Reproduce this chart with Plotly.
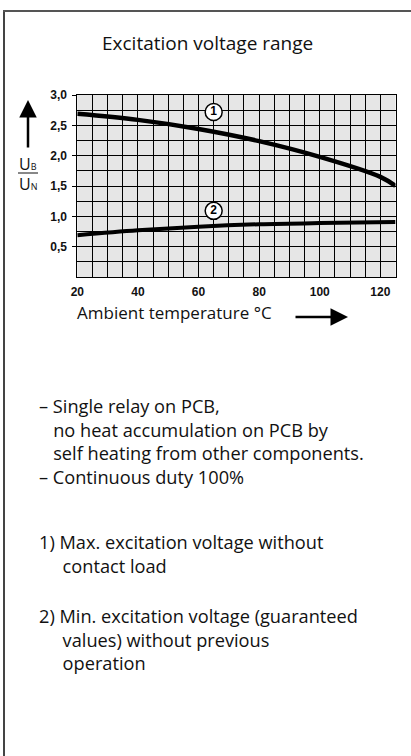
import plotly.graph_objects as go

W, H = 411, 756

# ---- data ----
temp_max = [20, 40, 60, 80, 100, 120, 125]
ub_un_max = [2.69, 2.59, 2.44, 2.24, 1.98, 1.65, 1.50]
temp_min = [20, 40, 60, 80, 100, 125]
ub_un_min = [0.69, 0.77, 0.83, 0.87, 0.89, 0.905]
label_x = [65, 65]
label_y = [2.72, 1.09]
label_text = ["1", "2"]
x_ticks = [20, 40, 60, 80, 100, 120]
y_ticks = [0.5, 1.0, 1.5, 2.0, 2.5, 3.0]
y_tick_text = ["0,5", "1,0", "1,5", "2,0", "2,5", "3,0"]

title = "Excitation voltage range"
x_title = "Ambient temperature °C"
NB3 = "\u00a0" * 3
NB5 = "\u00a0" * 5
notes = [
    (37, 441.5, "– Single relay on PCB,<br>" + NB3 + "no heat accumulation on PCB by<br>"
     + NB3 + "self heating from other components.<br>– Continuous duty 100%"),
    (37, 554, "1) Max. excitation voltage without<br>" + NB5 + "contact load"),
    (37, 639, "2) Min. excitation voltage (guaranteed<br>" + NB5 + "values) without previous<br>"
     + NB5 + "operation"),
]

def px(x):
    return x / W

def py(y):
    return 1 - y / H

TEXT_FONT = dict(family="Open Sans, Noto Sans, sans-serif", size=18.2, color="#111")
TICK_FONT = dict(family="Liberation Sans, Arial, sans-serif", size=12, color="#111", weight="bold")

fig = go.Figure()
fig.add_trace(go.Scatter(x=temp_max, y=ub_un_max, mode="lines",
                         line=dict(color="black", width=4.5, shape="spline", smoothing=1.0),
                         hoverinfo="skip", showlegend=False))
fig.add_trace(go.Scatter(x=temp_min, y=ub_un_min, mode="lines",
                         line=dict(color="black", width=4, shape="spline", smoothing=1.0),
                         hoverinfo="skip", showlegend=False))
fig.add_trace(go.Scatter(x=label_x, y=label_y, mode="markers+text",
                         text=label_text, textposition="middle center",
                         textfont=dict(family="Liberation Sans, Arial, sans-serif", size=12,
                                       color="black", weight="bold"),
                         marker=dict(size=17, color="white", line=dict(color="black", width=1.5)),
                         hoverinfo="skip", showlegend=False))

x0, x1 = 77.3, 395.5
y0, y1 = 95, 277

fig.update_layout(
    width=W, height=H,
    margin=dict(l=0, r=0, t=0, b=0, pad=0, autoexpand=False),
    paper_bgcolor="white",
    plot_bgcolor="#e6e6e6",
    xaxis=dict(domain=[px(x0), px(x1)], range=[20, 125], automargin=False,
               tickvals=x_ticks, ticks="", tickfont=TICK_FONT,
               showgrid=True, gridcolor="black", gridwidth=1,
               minor=dict(dtick=5, tick0=20, showgrid=True, gridcolor="black", gridwidth=1),
               showline=True, linecolor="black", linewidth=1, mirror=True,
               zeroline=False, fixedrange=True, ticklabelstandoff=4),
    yaxis=dict(domain=[py(y1), py(y0)], range=[0, 3], automargin=False,
               tickvals=y_ticks, ticktext=y_tick_text, ticks="outside", ticklen=4,
               tickcolor="black", tickfont=TICK_FONT,
               showgrid=True, gridcolor="black", gridwidth=1,
               minor=dict(dtick=0.25, tick0=0, showgrid=True, gridcolor="black", gridwidth=1),
               showline=True, linecolor="black", linewidth=1, mirror=True,
               zeroline=False, fixedrange=True, ticklabelstandoff=3),
)

ann = []
ann.append(dict(x=px(207), y=py(43), xref="paper", yref="paper", text=title,
                showarrow=False, xanchor="center", yanchor="middle",
                font=dict(family="Open Sans, Noto Sans, sans-serif", size=19, color="#111")))
ann.append(dict(x=px(75), y=py(313), xref="paper", yref="paper", text=x_title,
                showarrow=False, xanchor="left", yanchor="middle",
                font=dict(family="Open Sans, Noto Sans, sans-serif", size=17, color="#111")))
for (lx, ly, t) in notes:
    ann.append(dict(x=px(lx), y=py(ly), xref="paper", yref="paper", text=t,
                    showarrow=False, xanchor="left", yanchor="middle", align="left",
                    font=TEXT_FONT))
# U_B / U_N fraction
ann.append(dict(x=px(28), y=py(164), xref="paper", yref="paper",
                text="U<span style='font-size:9px'>B</span>",
                showarrow=False, xanchor="center", yanchor="middle",
                font=dict(family="Open Sans, Noto Sans, sans-serif", size=16, color="#111")))
ann.append(dict(x=px(28), y=py(184), xref="paper", yref="paper",
                text="U<span style='font-size:9px'>N</span>",
                showarrow=False, xanchor="center", yanchor="middle",
                font=dict(family="Open Sans, Noto Sans, sans-serif", size=16, color="#111")))
# arrows
ann.append(dict(x=px(28), y=py(100), xref="paper", yref="paper",
                ax=0, ay=49, axref="pixel", ayref="pixel",
                showarrow=True, arrowhead=2, arrowsize=1.4, arrowwidth=2.5,
                arrowcolor="black", text=""))
ann.append(dict(x=px(348), y=py(317), xref="paper", yref="paper",
                ax=-54, ay=0, axref="pixel", ayref="pixel",
                showarrow=True, arrowhead=2, arrowsize=1.4, arrowwidth=2.5,
                arrowcolor="black", text=""))
fig.update_layout(annotations=ann)

shapes = [
    dict(type="line", xref="paper", yref="paper", x0=px(18), x1=px(38), y0=py(173), y1=py(173),
         line=dict(color="#111", width=1)),
    dict(type="line", xref="paper", yref="paper", x0=px(4), x1=px(4), y0=py(10), y1=0,
         line=dict(color="#444", width=2)),
    dict(type="line", xref="paper", yref="paper", x0=px(3), x1=1, y0=py(11), y1=py(11),
         line=dict(color="#555", width=2)),
]
fig.update_layout(shapes=shapes)

css_js = (
    "var s=document.createElement('style');"
    "s.innerHTML='html,body{margin:0 !important;padding:0 !important;overflow:hidden !important;}';"
    "document.head.appendChild(s);"
)
fig.write_html("out.html", post_script=css_js, config={"displayModeBar": False})
